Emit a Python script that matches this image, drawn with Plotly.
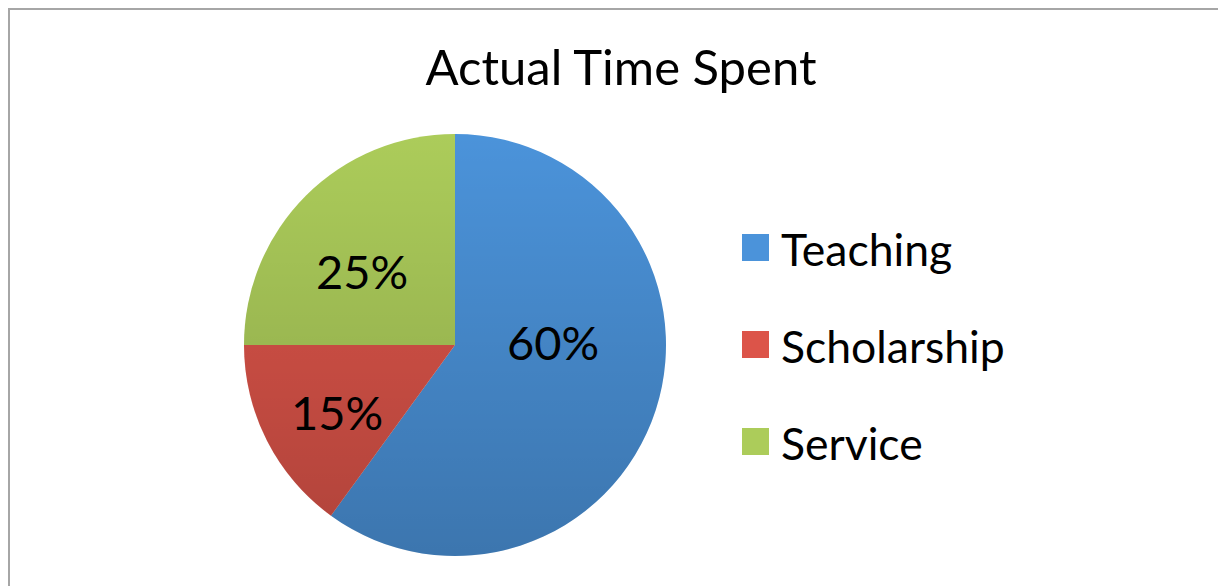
import base64
import plotly.graph_objects as go

categories = ["Teaching", "Scholarship", "Service"]
shares = [60, 15, 25]
colors = ["#4B93DA", "#DC5449", "#ACCC5A"]
title_text = "Actual Time Spent"

# the page body adds an 8px offset; layout below is in screen pixels
OX, OY = 8, 8
W, H = 1226, 586
FONT = "Lato, 'Open Sans', sans-serif"

def px_x(x):
    return (x - OX) / W

def px_y(y):
    return 1 - (y - OY) / H

cx, cy, r = 455, 345, 211
# label anchor points (screen px) for each slice
label_pos = [(553, 342), (337, 412), (362, 271)]

fig = go.Figure()
fig.add_trace(go.Pie(
    labels=categories,
    values=shares,
    sort=False,
    direction="clockwise",
    rotation=0,
    marker=dict(colors=colors, line=dict(width=0)),
    textinfo="none",
    domain=dict(x=[px_x(cx - r), px_x(cx + r)], y=[px_y(cy + r), px_y(cy - r)]),
    showlegend=False,
    hoverinfo="label+percent",
))

svg = (
    '<svg xmlns="http://www.w3.org/2000/svg" width="422" height="422">'
    '<defs><linearGradient id="g" x1="0" y1="0" x2="0" y2="1">'
    '<stop offset="0" stop-color="#000" stop-opacity="0"/>'
    '<stop offset="1" stop-color="#000" stop-opacity="0.2"/>'
    '</linearGradient></defs>'
    '<circle cx="211" cy="211" r="211" fill="url(#g)"/></svg>'
)
src = "data:image/svg+xml;base64," + base64.b64encode(svg.encode()).decode()
images = [dict(source=src, xref="paper", yref="paper",
               x=px_x(cx - r), y=px_y(cy - r), sizex=2 * r / W, sizey=2 * r / H,
               xanchor="left", yanchor="top", sizing="stretch", layer="above")]

shapes = [dict(type="rect", xref="paper", yref="paper",
               x0=px_x(9), x1=1.02, y0=-0.02, y1=px_y(9),
               line=dict(color="#A6A6A6", width=2), fillcolor="rgba(0,0,0,0)")]
annotations = []
total = sum(shares)
for val, (lx, ly) in zip(shares, label_pos):
    annotations.append(dict(text=f"{round(100 * val / total)}%", xref="paper", yref="paper",
                            x=px_x(lx), y=px_y(ly), xanchor="center", yanchor="middle",
                            showarrow=False,
                            font=dict(family=FONT, size=47, color="#000000")))

legend_y0, legend_step = 247.5, 97
for i, (cat, col) in enumerate(zip(categories, colors)):
    yc = legend_y0 + i * legend_step
    shapes.append(dict(type="rect", xref="paper", yref="paper",
                       x0=px_x(742), x1=px_x(769), y0=px_y(yc + 13.5), y1=px_y(yc - 13.5),
                       fillcolor=col, line=dict(width=0)))
    annotations.append(dict(text=cat, xref="paper", yref="paper", x=px_x(779), y=px_y(yc + 1),
                            xanchor="left", yanchor="middle", showarrow=False,
                            font=dict(family=FONT, size=44.5, color="#000000")))

fig.update_layout(
    width=W, height=H,
    margin=dict(l=0, r=0, t=0, b=0),
    paper_bgcolor="white",
    plot_bgcolor="white",
    title=dict(text=title_text, x=px_x(621), xanchor="center", y=px_y(68), yanchor="middle",
               font=dict(family=FONT, size=49, color="#000000")),
    shapes=shapes,
    annotations=annotations,
    images=images,
)

fig.write_html("out.html")
